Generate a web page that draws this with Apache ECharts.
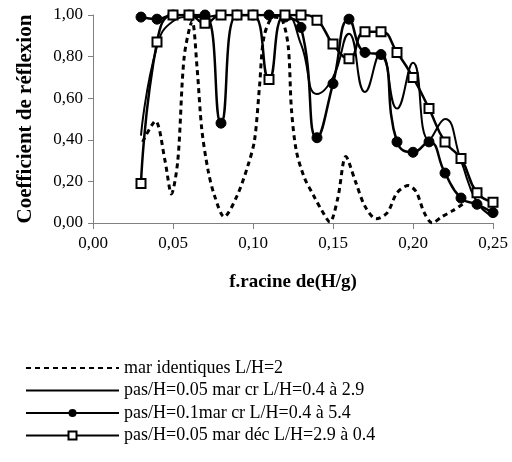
<!DOCTYPE html>
<html>
<head>
<meta charset="utf-8">
<script src="https://cdn.jsdelivr.net/npm/echarts@6/dist/echarts.min.js"></script>
<style>
html,body{margin:0;padding:0;background:#fff;}
#chart{width:512px;height:462px;}
</style>
</head>
<body>
<div id="chart"></div>
<script>
// x positions (f.racine de(H/g)) for the three marr series
var xSteps = [0.03,0.04,0.05,0.06,0.07,0.08,0.09,0.10,0.11,0.12,0.13,0.14,0.15,0.16,0.17,0.18,0.19,0.20,0.21,0.22,0.23,0.24,0.25];
// pas/H=0.05 mar cr L/H=0.4 à 2.9 (thin line, no markers)
var crY005 = [0.42,0.85,0.97,0.99,0.99,1.00,1.00,1.00,1.00,1.00,0.86,0.62,0.70,0.91,0.63,0.82,0.55,0.77,0.40,0.50,0.30,0.10,0.03];
// pas/H=0.1 mar cr L/H=0.4 à 5.4 (filled circles)
var crY01 = [0.99,0.98,1.00,1.00,1.00,0.48,1.00,1.00,1.00,0.99,0.94,0.41,0.67,0.98,0.82,0.81,0.39,0.34,0.39,0.24,0.12,0.09,0.05];
// pas/H=0.05 mar déc L/H=2.9 à 0.4 (open squares)
var decY005 = [0.19,0.87,1.00,1.00,0.96,1.00,1.00,1.00,0.69,1.00,1.00,0.975,0.86,0.79,0.92,0.92,0.82,0.70,0.55,0.39,0.31,0.145,0.10];
// mar identiques L/H=2 (dashed)
var identX = [0.031,0.039,0.045,0.049,0.053,0.057,0.062,0.065,0.068,0.072,0.076,0.082,0.090,0.097,0.101,0.104,0.107,0.113,0.118,0.122,0.124,0.127,0.132,0.138,0.143,0.148,0.153,0.158,0.164,0.170,0.177,0.184,0.190,0.197,0.202,0.207,0.212,0.218,0.225,0.231];
var identY = [0.39,0.49,0.30,0.14,0.30,0.80,0.97,0.75,0.45,0.25,0.13,0.03,0.13,0.28,0.40,0.65,0.90,0.99,0.98,0.85,0.55,0.35,0.22,0.13,0.06,0.005,0.12,0.32,0.20,0.08,0.02,0.05,0.145,0.18,0.15,0.05,0.00,0.03,0.06,0.09];
var names = ['mar identiques L/H=2','pas/H=0.05 mar cr L/H=0.4 à 2.9','pas/H=0.1mar cr L/H=0.4 à 5.4','pas/H=0.05 mar déc L/H=2.9 à 0.4'];

function pairs(xs, ys){ return xs.map(function(x,i){ return [x, ys[i]]; }); }
function fmt(v){ return v.toFixed(2).replace('.', ','); }

var serif = "'Liberation Serif','Times New Roman',serif";
var chart = echarts.init(document.getElementById('chart'), null, {renderer:'canvas'});
chart.setOption({
  animation:false,
  backgroundColor:'#fff',
  grid:{left:93,right:19,top:15,bottom:239,containLabel:false},
  legend:{
    orient:'vertical', left:20, top:354, itemWidth:93, itemHeight:10, itemGap:4.5,
    textStyle:{fontFamily:serif,fontSize:18,color:'#000',lineHeight:16},
    data:[
      {name:names[0], itemStyle:{opacity:0}},
      {name:names[1], itemStyle:{opacity:0}},
      {name:names[2]},
      {name:names[3]}
    ]
  },
  xAxis:{
    type:'value', min:0, max:0.25, interval:0.05,
    name:'f.racine de(H/g)', nameLocation:'middle', nameGap:50,
    nameTextStyle:{fontFamily:serif,fontSize:19,fontWeight:'bold',color:'#000'},
    axisLine:{lineStyle:{color:'#808080',width:1}},
    axisTick:{show:true,length:6,lineStyle:{color:'#808080'}},
    axisLabel:{formatter:fmt,fontFamily:serif,fontSize:17,color:'#000',margin:12},
    splitLine:{show:false}
  },
  yAxis:{
    type:'value', min:0, max:1, interval:0.2,
    name:'Coefficient de réflexion', nameLocation:'middle', nameGap:57, nameRotate:90,
    nameTextStyle:{fontFamily:serif,fontSize:21,fontWeight:'bold',color:'#000'},
    axisLine:{show:true,lineStyle:{color:'#808080',width:1}},
    axisTick:{show:true,length:5,lineStyle:{color:'#808080'}},
    axisLabel:{formatter:fmt,fontFamily:serif,fontSize:17,color:'#000',margin:10},
    splitLine:{show:false}
  },
  series:[
    {name:names[0],type:'line',data:pairs(identX,identY),smooth:0.3,symbol:'none',
     lineStyle:{color:'#000',width:3,type:[5,4]},itemStyle:{color:'#000'},z:2},
    {name:names[1],type:'line',data:pairs(xSteps,crY005),smooth:0.5,symbol:'none',
     lineStyle:{color:'#000',width:2},itemStyle:{color:'#000'},z:3},
    {name:names[2],type:'line',data:pairs(xSteps,crY01),smooth:0.5,symbol:'circle',symbolSize:10,
     lineStyle:{color:'#000',width:2.5},itemStyle:{color:'#000',borderColor:'#000'},z:4},
    {name:names[3],type:'line',data:pairs(xSteps,decY005),smooth:0.5,symbol:'rect',symbolSize:9,
     lineStyle:{color:'#000',width:2.5},itemStyle:{color:'#fff',borderColor:'#000',borderWidth:2},z:5}
  ]
});
</script>
</body>
</html>
